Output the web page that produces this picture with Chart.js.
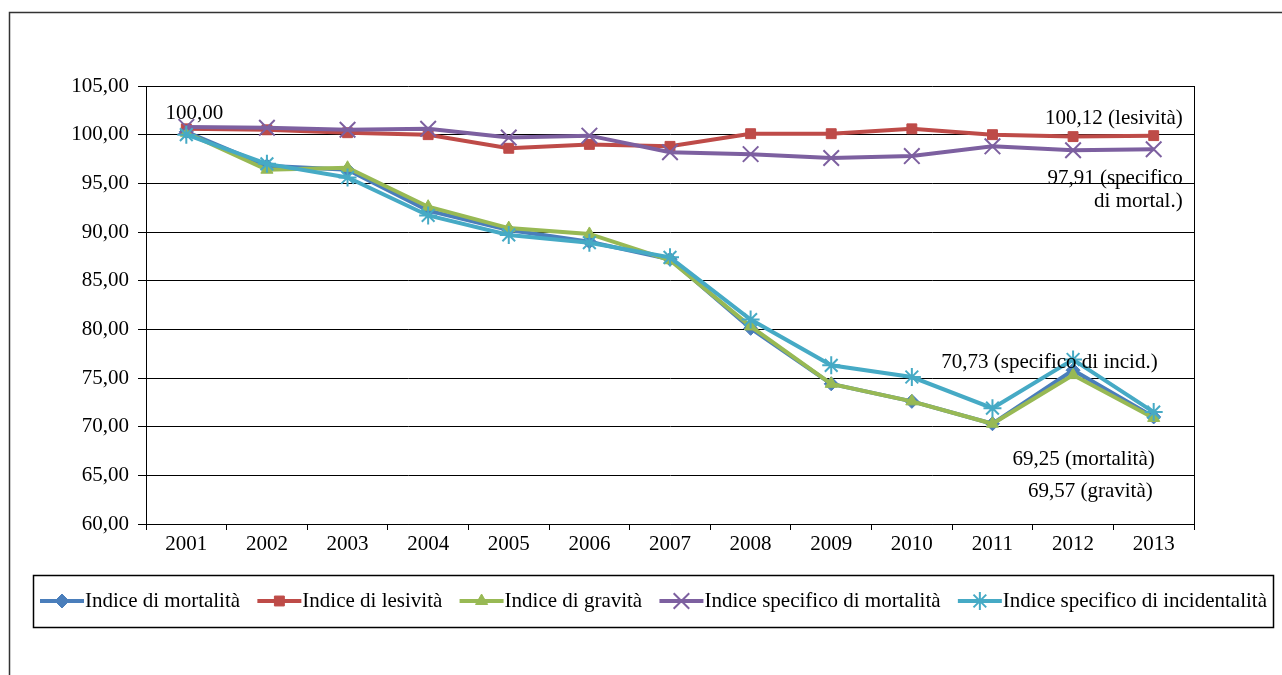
<!DOCTYPE html>
<html>
<head>
<meta charset="utf-8">
<title>Indici 2001-2013</title>
<script src="https://cdn.jsdelivr.net/npm/chart.js@4.4.1/dist/chart.umd.min.js"></script>
<style>
    body { margin: 0; background: #fff; }
    #wrap { position: relative; width: 1282px; height: 675px; }
</style>
</head>
<body>
<div id="wrap"><canvas id="indexChart" width="1282" height="675"></canvas></div>
<script>
// data (2001 = 100)
const years = ['2001', '2002', '2003', '2004', '2005', '2006', '2007', '2008', '2009', '2010', '2011', '2012', '2013'];
const mortalita     = [100.3, 96.8, 96.4, 92.2, 90.2, 89.0, 87.2, 80.1, 74.4, 72.6, 70.3, 75.8, 71.0];
const lesivita      = [100.6, 100.5, 100.2, 100.0, 98.6, 99.0, 98.8, 100.1, 100.1, 100.6, 100.0, 99.8, 99.9];
const gravita       = [100.2, 96.4, 96.6, 92.6, 90.4, 89.8, 87.1, 80.3, 74.4, 72.6, 70.3, 75.3, 70.9];
const specMortalita = [100.8, 100.7, 100.5, 100.6, 99.7, 99.9, 98.2, 98.0, 97.6, 97.8, 98.8, 98.4, 98.5];
const specIncid     = [100.0, 97.0, 95.6, 91.7, 89.7, 88.9, 87.4, 81.0, 76.3, 75.1, 71.9, 76.9, 71.5];
const yTicks = [60, 65, 70, 75, 80, 85, 90, 95, 100, 105];

// text notes: [text, year, value, align, x shift]
const notes = [
    ['100,00', '2001', 102.2, 'center', 8],
    ['100,12 (lesività)', '2013', 101.7, 'right', 29],
    ['97,91 (specifico', '2013', 95.5, 'right', 29],
    ['di mortal.)', '2013', 93.15, 'right', 29],
    ['70,73 (specifico di incid.)', '2013', 76.6, 'right', 4],
    ['69,25 (mortalità)', '2013', 66.6, 'right', 1],
    ['69,57 (gravità)', '2013', 63.35, 'right', -1]
];

const FONT = '"Liberation Serif", "Times New Roman", serif';
const FSIZE = 21;

function fmt(v) {
    return v.toFixed(2).replace('.', ',');
}

function drawMarker(ctx, ds, x, y) {
    ctx.save();
    ctx.fillStyle = ds.pointBackgroundColor;
    ctx.strokeStyle = ds.pointBorderColor;
    ctx.lineWidth = ds.pointBorderWidth;
    Chart.helpers.drawPoint(ctx, {
        pointStyle: ds.pointStyle,
        radius: ds.pointRadius,
        rotation: 0,
        borderWidth: ds.pointBorderWidth
    }, x, y);
    ctx.restore();
}

const decorPlugin = {
    id: 'decor',
    afterDraw(chart) {
        const ctx = chart.ctx;
        const area = chart.chartArea;
        const xs = chart.scales.x;
        const ys = chart.scales.y;
        ctx.save();

        // outer frame (left and top only are visible)
        ctx.strokeStyle = '#333';
        ctx.lineWidth = 1.5;
        ctx.beginPath();
        ctx.moveTo(9.5, 675);
        ctx.lineTo(9.5, 12.5);
        ctx.lineTo(1282, 12.5);
        ctx.stroke();

        // right border of plot area
        ctx.strokeStyle = '#000';
        ctx.lineWidth = 1;
        ctx.beginPath();
        ctx.moveTo(Math.round(area.right) + 0.5, area.top);
        ctx.lineTo(Math.round(area.right) + 0.5, area.bottom);
        ctx.stroke();

        // notes
        ctx.fillStyle = '#000';
        ctx.font = FSIZE + 'px ' + FONT;
        ctx.textBaseline = 'middle';
        notes.forEach(n => {
            const x = xs.getPixelForValue(years.indexOf(n[1])) + n[4];
            const y = ys.getPixelForValue(n[2]);
            ctx.textAlign = n[3];
            ctx.fillText(n[0], x, y);
        });

        // legend
        ctx.strokeStyle = '#000';
        ctx.lineWidth = 1.5;
        ctx.strokeRect(33.5, 575.5, 1240, 52);
        const lineLen = 44;
        const startX = 40, endX = 1266, ly = 601;
        const sets = chart.data.datasets;
        const widths = sets.map(d => ctx.measureText(d.label).width);
        const total = widths.reduce((a, b) => a + b, 0) + sets.length * lineLen;
        const gap = (endX - startX - total) / (sets.length - 1);
        let cx = startX;
        ctx.textAlign = 'left';
        sets.forEach((ds, i) => {
            ctx.strokeStyle = ds.borderColor;
            ctx.lineWidth = 4;
            ctx.beginPath();
            ctx.moveTo(cx, ly);
            ctx.lineTo(cx + lineLen, ly);
            ctx.stroke();
            drawMarker(ctx, ds, cx + lineLen / 2, ly);
            ctx.fillStyle = '#000';
            ctx.fillText(ds.label, cx + lineLen + 1, ly);
            cx += lineLen + widths[i] + gap;
        });
        ctx.restore();
    }
};

function series(label, data, color, style, radius, pbw, order) {
    return {
        label: label,
        data: data,
        borderColor: color,
        backgroundColor: color,
        borderWidth: 4,
        pointStyle: style,
        pointRadius: radius,
        pointHoverRadius: radius,
        pointBackgroundColor: color,
        pointBorderColor: color,
        pointBorderWidth: pbw,
        tension: 0,
        order: order
    };
}

const ctx = document.getElementById('indexChart').getContext('2d');
new Chart(ctx, {
    type: 'line',
    data: {
        labels: years,
        datasets: [
            series('Indice di mortalità', mortalita, '#4A7EBB', 'rectRot', 7, 1, 4),
            series('Indice di lesività', lesivita, '#BE4B48', 'rect', 7, 1, 3),
            series('Indice di gravità', gravita, '#98B954', 'triangle', 7, 1, 2),
            series('Indice specifico di mortalità', specMortalita, '#7D60A0', 'crossRot', 11, 2, 1),
            series('Indice specifico di incidentalità', specIncid, '#46AAC5', 'star', 9, 2, 0)
        ]
    },
    options: {
        responsive: false,
        animation: false,
        layout: { padding: { left: 0, top: 86, right: 88, bottom: 111 } },
        plugins: {
            legend: { display: false },
            tooltip: { enabled: false }
        },
        scales: {
            x: {
                offset: true,
                grid: { drawOnChartArea: false, drawTicks: true, tickLength: 6, color: '#000', offset: true },
                border: { color: '#000', width: 1 },
                ticks: { color: '#000', font: { family: FONT, size: FSIZE }, padding: 2, maxRotation: 0, autoSkip: false },
                afterFit(s) { s.height = 40; }
            },
            y: {
                min: 60,
                max: 105,
                afterBuildTicks(s) { s.ticks = yTicks.map(v => ({ value: v })); },
                grid: { color: '#000', lineWidth: 1, tickLength: 8 },
                border: { color: '#000', width: 1 },
                ticks: {
                    color: '#000',
                    font: { family: FONT, size: FSIZE },
                    padding: 9,
                    callback: v => fmt(v)
                },
                afterFit(s) { s.width = 146; }
            }
        }
    },
    plugins: [decorPlugin]
});
</script>
</body>
</html>
